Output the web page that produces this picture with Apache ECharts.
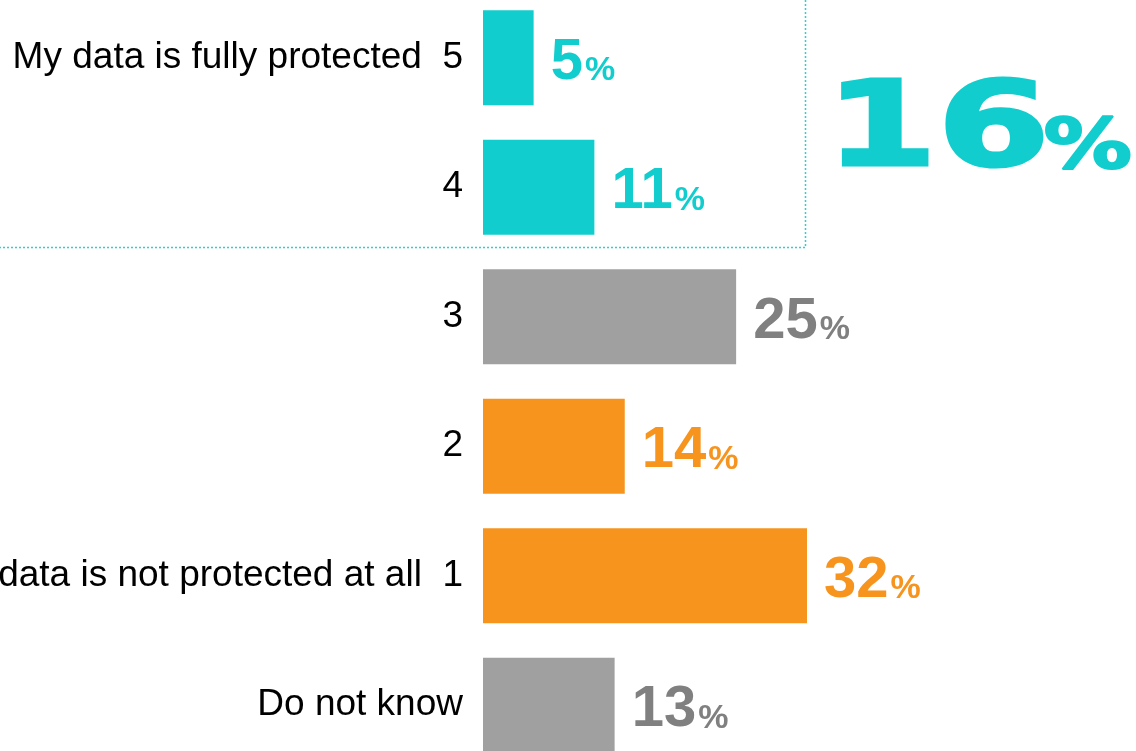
<!DOCTYPE html>
<html>
<head>
<meta charset="utf-8">
<script src="https://cdn.jsdelivr.net/npm/echarts@6/dist/echarts.min.js"></script>
<style>
  html, body { margin: 0; padding: 0; background: #fff; }
  #chart { width: 1136px; height: 751px; }
</style>
</head>
<body>
<div id="chart"></div>
<script>
// Survey answers, top to bottom
const categories = [
  'My data is fully protected  5',
  '4',
  '3',
  '2',
  'My data is not protected at all  1',
  'Do not know'
];
// Share of respondents, %
const values = [5, 11, 25, 14, 32, 13];
// Answer group of each row
const groups = ['protected', 'protected', 'neutral', 'unprotected', 'unprotected', 'neutral'];

const TEAL = '#12CDCD';
const ORANGE = '#F7941E';
const FONT = '"Liberation Sans", Arial, sans-serif';
const barColour = { protected: TEAL, neutral: '#A0A0A0', unprotected: ORANGE };
const labelColour = { protected: TEAL, neutral: '#808080', unprotected: ORANGE };

// Combined share of the two "protected" answers
const protectedTotal = values.filter((v, i) => groups[i] === 'protected').reduce((a, b) => a + b, 0);

const chart = echarts.init(document.getElementById('chart'));

chart.setOption({
  backgroundColor: '#ffffff',
  animation: false,
  grid: {
    left: 483, right: 248, top: -7, bottom: -19,
    containLabel: false, outerBoundsMode: 'none'
  },
  xAxis: {
    type: 'value', min: 0, max: 40,
    show: false
  },
  yAxis: {
    type: 'category',
    data: categories,
    inverse: true,
    axisLine: { show: false },
    axisTick: { show: false },
    splitLine: { show: false },
    axisLabel: {
      margin: 20,
      color: '#000',
      fontSize: 37,
      fontFamily: FONT
    }
  },
  series: [{
    type: 'bar',
    barWidth: 95,
    data: values.map((v, i) => ({
      value: v,
      itemStyle: { color: barColour[groups[i]] },
      label: { color: labelColour[groups[i]] }
    })),
    label: {
      show: true,
      position: 'right',
      distance: 17,
      offset: [0, 5],
      fontFamily: FONT,
      formatter: p => '{v|' + p.value + '}{p|%}',
      rich: {
        v: { fontSize: 58, fontWeight: 'bold', fontFamily: FONT, verticalAlign: 'bottom', lineHeight: 58 },
        p: { fontSize: 34, fontWeight: 'bold', fontFamily: FONT, verticalAlign: 'bottom', lineHeight: 34, padding: [0, 0, 4, 2] }
      }
    }
  }],
  graphic: [
    {
      type: 'polyline',
      silent: true,
      shape: { points: [[805.5, 0], [805.5, 247.5], [0, 247.5]] },
      style: { stroke: '#2ED0D0', lineWidth: 1.5, lineDash: [2, 2], fill: null }
    },
    {
      type: 'text',
      x: 825, y: 134,
      scaleX: 1.37,
      style: {
        text: String(protectedTotal),
        font: 'bold 118px "DejaVu Sans", sans-serif',
        fill: TEAL, stroke: TEAL, lineWidth: 3,
        textAlign: 'left', verticalAlign: 'middle'
      }
    },
    {
      type: 'text',
      x: 1132, y: 150,
      scaleX: 1.28,
      style: {
        text: '%',
        font: 'bold 69px "DejaVu Sans", sans-serif',
        fill: TEAL, stroke: TEAL, lineWidth: 2,
        textAlign: 'right', verticalAlign: 'middle'
      }
    }
  ]
});
</script>
</body>
</html>
